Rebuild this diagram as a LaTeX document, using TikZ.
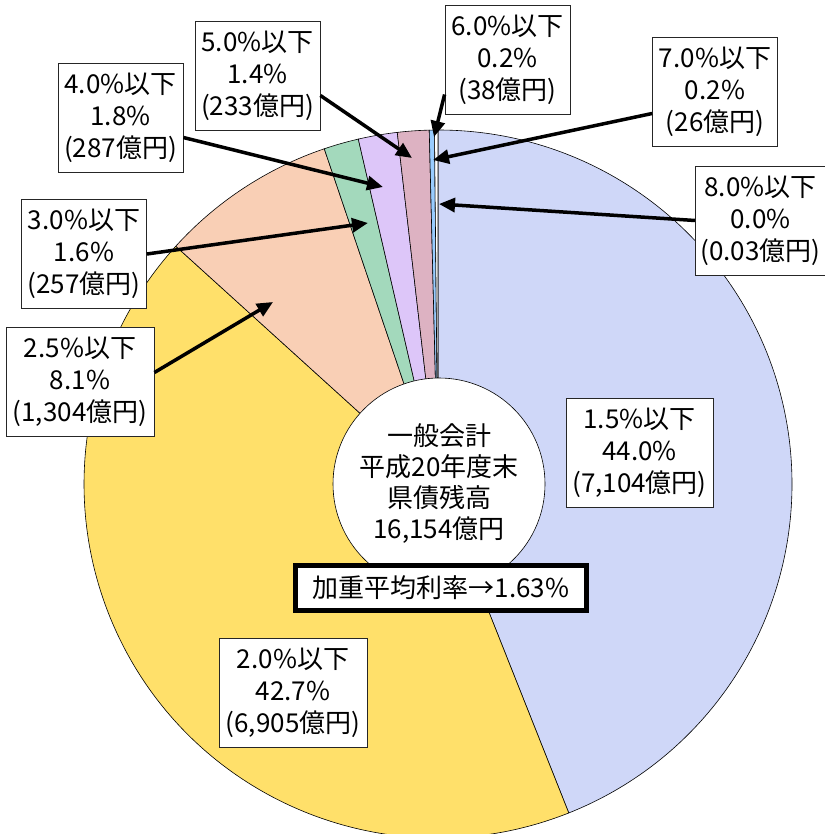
\documentclass[tikz,border=0pt]{standalone}
\usepackage{fontspec}
\setmainfont{Noto Sans CJK JP}
\usetikzlibrary{arrows.meta}
\definecolor{pblue}{HTML}{CFD7F8}
\definecolor{pyellow}{HTML}{FFE06A}
\definecolor{ppeach}{HTML}{F9CFB5}
\definecolor{pgreen}{HTML}{A3D9BC}
\definecolor{ppurple}{HTML}{DDC6F9}
\definecolor{pmauve}{HTML}{DDB2C2}
\definecolor{psky}{HTML}{99CCFF}
\begin{document}
\begin{tikzpicture}[x=1pt,y=-1pt,
    lbl/.style={draw=black!85,fill=white,align=center,line width=0.8pt,
      font=\fontsize{26}{32}\selectfont,minimum width=125pt,minimum height=109pt,inner xsep=5pt},
    ptr/.style={line width=3.5pt,-{Triangle[length=16pt,width=14pt]}}]
    \useasboundingbox (0,0) rectangle (824,834);
    \begin{scope}[shift={(438,484)},line width=0.6pt]
      \draw[fill=pblue] (0,0) -- (-90:354) arc[start angle=-90,end angle=68.32,radius=354] -- cycle;
      \draw[fill=pyellow] (0,0) -- (68.32:354) arc[start angle=68.32,end angle=222.2,radius=354] -- cycle;
      \draw[fill=ppeach] (0,0) -- (222.2:354) arc[start angle=222.2,end angle=251.26,radius=354] -- cycle;
      \draw[fill=pgreen] (0,0) -- (251.26:354) arc[start angle=251.26,end angle=256.99,radius=354] -- cycle;
      \draw[fill=ppurple] (0,0) -- (256.99:354) arc[start angle=256.99,end angle=263.39,radius=354] -- cycle;
      \draw[fill=pmauve] (0,0) -- (263.39:354) arc[start angle=263.39,end angle=268.58,radius=354] -- cycle;
      \draw[fill=psky] (0,0) -- (268.58:354) arc[start angle=268.58,end angle=269.43,radius=354] -- cycle;
      \draw[fill=white] (0,0) -- (269.43:354) arc[start angle=269.43,end angle=270,radius=354] -- cycle;
    \end{scope}
    \node[circle,draw,fill=white,line width=0.6pt,minimum size=212pt,align=center,
      font=\fontsize{26}{31}\selectfont] (total) at (439,484) {一般会計\\平成20年度末\\県債残高\\16,154億円};
    \node[draw,fill=white,line width=4.5pt,minimum width=291pt,minimum height=45pt,
      font=\fontsize{26}{31}\selectfont] (rate) at (441,588) {加重平均利率→1.63\%};
    \coordinate (t25) at (273,302);
    \coordinate (t30) at (368,223);
    \coordinate (t40) at (383,187);
    \coordinate (t50) at (412,158);
    \coordinate (t60) at (434,137);
    \coordinate (t70) at (433,160);
    \coordinate (t80) at (439,204);
    \node[lbl,minimum width=147pt] (l15) at (639.5,452.5) {1.5\%以下\\44.0\%\\(7,104億円)};
    \node[lbl,minimum width=148pt] (l20) at (293,692.5) {2.0\%以下\\42.7\%\\(6,905億円)};
    \node[lbl,minimum width=148pt] (l25) at (80,381.5) {2.5\%以下\\8.1\%\\(1,304億円)};
    \node[lbl] (l30) at (84,254) {3.0\%以下\\1.6\%\\(257億円)};
    \node[lbl] (l40) at (120.5,117.5) {4.0\%以下\\1.8\%\\(287億円)};
    \node[lbl] (l50) at (257.5,75.5) {5.0\%以下\\1.4\%\\(233億円)};
    \node[lbl] (l60) at (507.5,59.5) {6.0\%以下\\0.2\%\\(38億円)};
    \node[lbl] (l70) at (715,91.5) {7.0\%以下\\0.2\%\\(26億円)};
    \node[lbl] (l80) at (760.5,220.5) {8.0\%以下\\0.0\%\\(0.03億円)};
    \draw[ptr] ([yshift=9pt]l25.east) -- (t25);
    \draw[ptr] (l30.east) -- (t30);
    \draw[ptr] ([yshift=-20pt]l40.east) -- (t40);
    \draw[ptr] ([yshift=-20pt]l50.east) -- (t50);
    \draw[ptr] ([yshift=-35pt]l60.west) -- (t60);
    \draw[ptr] ([yshift=-22pt]l70.west) -- (t70);
    \draw[ptr] (l80.west) -- (t80);
\end{tikzpicture}
\end{document}
